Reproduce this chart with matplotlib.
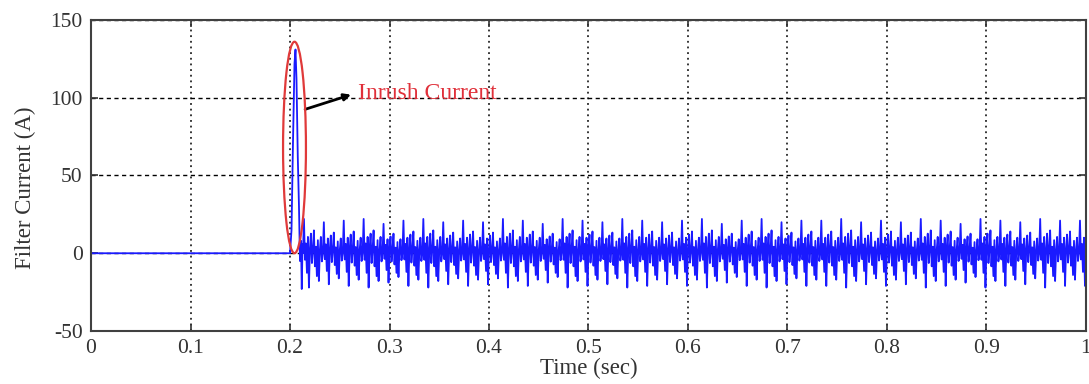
import numpy as np
import matplotlib
matplotlib.use('Agg')
import matplotlib.pyplot as plt
from matplotlib.patches import Ellipse

# zero current before the filter is switched in
flat_t = [0.0, 0.200]
flat_i = [0.0, 0.0]

# inrush spike
inrush_t = [0.200, 0.2015, 0.2030, 0.2045, 0.2055, 0.2065, 0.2078, 0.2090, 0.2100, 0.2110, 0.2118, 0.2126]
inrush_i = [0.0, 15.0, 72.0, 122.0, 131.0, 112.0, 62.0, 30.0, -5.0, 8.0, -23.0, 6.0]

# one 20 ms period of the steady ripple (1 ms samples)
cycle_shape = [0, 21, -4, 6, -12, 10, -21, 3, 12, -6, 2, 14, -8, 4, -14, 8, -17, 2, 10, -5]
# how tall each period looks relative to the template
cycle_scale = [1.05, 0.95, 1.0, 1.05, 0.9, 1.0, 1.05, 0.95, 1.0, 0.95,
               1.05, 1.0, 0.9, 1.05, 1.0, 0.95, 1.05, 1.0, 0.95, 1.0,
               1.05, 0.9, 1.0, 1.05, 0.95, 1.0, 1.0, 1.05, 0.95, 1.0,
               0.95, 1.05, 1.0, 0.9, 1.05, 1.0, 0.95, 1.05, 1.0, 1.0]
ripple_start = 0.213
ripple_dt = 0.001

ripple_i = np.concatenate([np.array(cycle_shape) * s for s in cycle_scale])
ripple_t = ripple_start + ripple_dt * np.arange(len(ripple_i))
keep = ripple_t <= 1.0
ripple_t, ripple_i = ripple_t[keep], ripple_i[keep]

t = np.concatenate([flat_t, inrush_t, ripple_t])
i = np.concatenate([flat_i, inrush_i, ripple_i])

plt.rcParams['font.family'] = ['Liberation Serif', 'DejaVu Serif']
plt.rcParams['axes.unicode_minus'] = False

fig = plt.figure(figsize=(10.89, 3.84), dpi=100)
ax = fig.add_axes([0.0836, 0.138, 0.9136, 0.81])

ax.plot(t, i, color='#1a1aff', lw=1.3)

# highlight of the inrush
ax.add_patch(Ellipse((0.2045, 68), 0.023, 136, fill=False, ec='#e03a3a', lw=1.6, zorder=4))
ax.annotate('', xy=(0.264, 102.5), xytext=(0.2125, 92),
            arrowprops=dict(arrowstyle='-|>', color='black', lw=2, mutation_scale=10))
ax.text(0.268, 103, 'Inrush Current', color='#e0303a', fontsize=17, va='center', ha='left')

ax.set_xlim(0, 1)
ax.set_ylim(-50, 150)
ax.set_xticks(np.arange(0, 1.01, 0.1))
ax.set_xticklabels(['0', '0.1', '0.2', '0.3', '0.4', '0.5', '0.6', '0.7', '0.8', '0.9', '1'])
ax.set_yticks([-50, 0, 50, 100, 150])

ax.xaxis.grid(True, color='black', linestyle=(0, (1.2, 2.5)), lw=1.1)
ax.yaxis.grid(True, color='black', linestyle=(0, (3, 2.5)), lw=1.0)

ax.tick_params(direction='in', length=5, top=True, right=True, labelsize=15.5,
               colors='#333333', width=1.2)
ax.tick_params(axis='x', pad=6)
ax.tick_params(axis='y', pad=6)
for s in ax.spines.values():
    s.set_color('#404040')
    s.set_linewidth(1.5)

ax.set_xlabel('Time (sec)', fontsize=16.5, color='#333333')
ax.set_ylabel('Filter Current (A)', fontsize=16.5, color='#333333')
ax.yaxis.set_label_coords(-0.055, 0.46)
ax.xaxis.set_label_coords(0.5, -0.085)

fig.savefig('out.png', dpi=100)
